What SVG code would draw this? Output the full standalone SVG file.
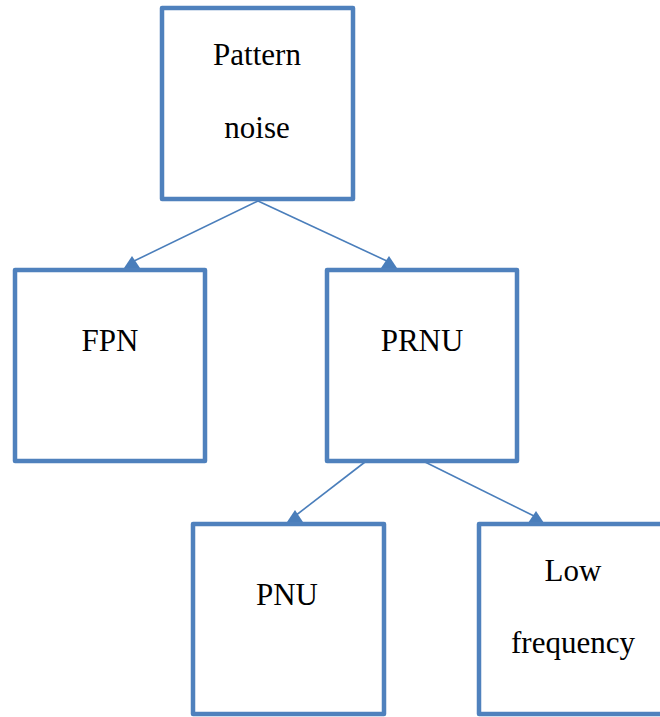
<svg xmlns="http://www.w3.org/2000/svg" width="660" height="717" viewBox="0 0 660 717">
<style>
.box{fill:#fff;stroke:#4F81BD;stroke-width:4.5;stroke-linejoin:round}
.lbl{font-family:"Liberation Serif","Times New Roman",serif;font-size:31px;fill:#000;text-anchor:middle}
.con{stroke:#4A7EBB;stroke-width:1.6;fill:none}
.ah{fill:#4A7EBB}
</style>
<defs>
<polygon id="head" points="0,0 -8,12 8,12"/>
</defs>
<rect width="660" height="717" fill="#fff"/>
<g id="connectors">
<line class="con" x1="258" y1="201" x2="132" y2="262"/>
<use href="#head" class="ah" x="132" y="256"/>
<line class="con" x1="258" y1="201" x2="389" y2="262"/>
<use href="#head" class="ah" x="389" y="256"/>
<line class="con" x1="365" y1="462" x2="295" y2="516"/>
<use href="#head" class="ah" x="295" y="510"/>
<line class="con" x1="425" y1="462" x2="536" y2="517"/>
<use href="#head" class="ah" x="536" y="511"/>
</g>
<g id="pattern-noise">
<rect class="box" x="162" y="8" width="191" height="191"/>
<text class="lbl" x="257" y="65">Pattern</text>
<text class="lbl" x="257" y="138">noise</text>
</g>
<g id="fpn">
<rect class="box" x="15" y="270" width="190" height="191"/>
<text class="lbl" x="110" y="351">FPN</text>
</g>
<g id="prnu">
<rect class="box" x="327" y="270" width="190" height="191"/>
<text class="lbl" x="422" y="351">PRNU</text>
</g>
<g id="pnu">
<rect class="box" x="193" y="524" width="191" height="190"/>
<text class="lbl" x="287" y="605">PNU</text>
</g>
<g id="low-frequency">
<rect class="box" x="479" y="524" width="192" height="190"/>
<text class="lbl" x="573" y="581">Low</text>
<text class="lbl" x="573" y="653">frequency</text>
</g>
</svg>
